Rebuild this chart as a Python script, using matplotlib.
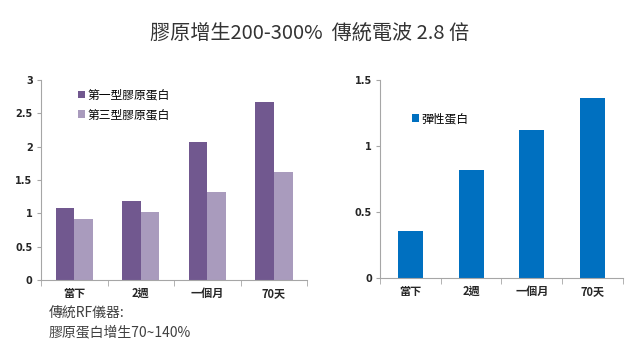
import numpy as np
import matplotlib
matplotlib.use("Agg")
import matplotlib.pyplot as plt
from matplotlib.ticker import FixedLocator

plt.rcParams["font.family"] = ["Noto Sans CJK TC", "DejaVu Sans"]

# ── Data ──────────────────────────────────────────────────────────────────────
categories = ["當下", "2週", "一個月", "70天"]
collagen_1 = [1.08, 1.18, 2.07, 2.67]
collagen_3 = [0.92, 1.02, 1.32, 1.62]
elastin = [0.36, 0.82, 1.12, 1.36]
left_yticks = [0, 0.5, 1, 1.5, 2, 2.5, 3]
right_yticks = [0, 0.5, 1, 1.5]

DARK_PURPLE = "#71588F"
LIGHT_PURPLE = "#A99BBD"
BLUE = "#0070C0"
AXIS = "#A6A6A6"
TEXT = "#262626"

fig = plt.figure(figsize=(6.4, 3.43), dpi=100, facecolor="white")


def style_axis(ax, yticks):
    for s in ("top", "right"):
        ax.spines[s].set_visible(False)
    ax.spines["left"].set_color(AXIS)
    ax.spines["bottom"].set_color(AXIS)
    ax.set_xlim(-0.5, len(categories) - 0.5)
    ax.set_ylim(yticks[0], yticks[-1])
    ax.set_yticks(yticks)
    ax.set_yticklabels([f"{t:g}" for t in yticks], fontsize=7, fontweight="bold",
                       color=TEXT, family="DejaVu Sans")
    ax.set_xticks(range(len(categories)))
    ax.set_xticklabels(categories, fontsize=8, fontweight="bold", color=TEXT)
    ax.tick_params(axis="x", which="major", length=0, pad=5)
    ax.tick_params(axis="y", length=3, color=AXIS, pad=3)
    ax.xaxis.set_minor_locator(FixedLocator(np.arange(-0.5, len(categories), 1)))
    ax.tick_params(axis="x", which="minor", length=4, color=AXIS)


# ── Left: collagen ──
ax1 = fig.add_axes([0.064, 0.184, 0.416, 0.583])
x = np.arange(len(categories))
ax1.bar(x - 0.14, collagen_1, width=0.28, color=DARK_PURPLE, label="第一型膠原蛋白")
ax1.bar(x + 0.14, collagen_3, width=0.28, color=LIGHT_PURPLE, label="第三型膠原蛋白")
style_axis(ax1, left_yticks)
ax1.legend(loc="upper left", bbox_to_anchor=(0.12, 0.98), frameon=False, fontsize=8.5,
           handlelength=0.6, handleheight=0.6, handletextpad=0.25, labelspacing=0.55,
           borderaxespad=0)

# ── Right: elastin ──
ax2 = fig.add_axes([0.594, 0.189, 0.379, 0.578])
ax2.bar(x, elastin, width=0.41, color=BLUE, label="彈性蛋白")
style_axis(ax2, right_yticks)
ax2.legend(loc="upper left", bbox_to_anchor=(0.11, 0.86), frameon=False, fontsize=8.5,
           handlelength=0.6, handleheight=0.6, handletextpad=0.25, borderaxespad=0)

# ── Texts ──
fig.text(0.483, 0.905, "膠原增生200-300%  傳統電波 2.8 倍", ha="center", va="center",
         fontsize=14.5, color="#333333")
fig.text(0.076, 0.088, "傳統RF儀器:", ha="left", va="center", fontsize=10, color="#404040")
fig.text(0.076, 0.030, "膠原蛋白增生70~140%", ha="left", va="center", fontsize=10, color="#404040")

fig.savefig("out.png", dpi=100, facecolor="white")
